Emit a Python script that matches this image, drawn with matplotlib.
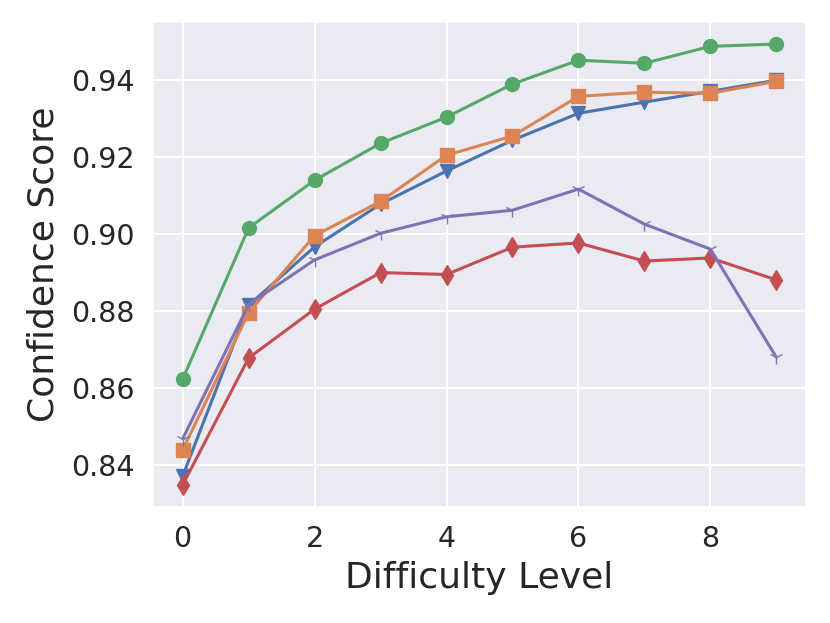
import numpy as np
import matplotlib
matplotlib.use("Agg")
import matplotlib.pyplot as plt
import seaborn as sns

levels = np.arange(10)

# confidence per difficulty level, one list per series
blue_conf = [0.8371, 0.8815, 0.8967, 0.9078, 0.9164, 0.9244, 0.9314, 0.9343, 0.9371, 0.9400]
orange_conf = [0.8439, 0.8796, 0.8996, 0.9085, 0.9205, 0.9255, 0.9358, 0.9369, 0.9366, 0.9397]
green_conf = [0.8623, 0.9016, 0.9140, 0.9236, 0.9304, 0.9390, 0.9452, 0.9444, 0.9488, 0.9494]
red_conf = [0.8348, 0.8678, 0.8805, 0.8900, 0.8895, 0.8966, 0.8977, 0.8930, 0.8938, 0.8881]
purple_conf = [0.8468, 0.8817, 0.8933, 0.9002, 0.9045, 0.9062, 0.9117, 0.9026, 0.8961, 0.8680]

sns.set_theme(style="darkgrid")
pal = sns.color_palette()

fig = plt.figure(figsize=(8.3, 6.23), dpi=100)
ax = fig.add_axes([153/830, 1 - 507/623, (806-153)/830, (507-22)/623])

ax.plot(levels, blue_conf, marker="v", color=pal[0], lw=2.2, ms=10)
ax.plot(levels, orange_conf, marker="s", color=pal[1], lw=2.2, ms=10)
ax.plot(levels, green_conf, marker="o", color=pal[2], lw=2.2, ms=10)
ax.plot(levels, red_conf, marker="d", color=pal[3], lw=2.2, ms=10)
ax.plot(levels, purple_conf, marker="1", color=pal[4], lw=2.2, ms=10)

ax.set_xlabel("Difficulty Level", fontsize=26, labelpad=6)
ax.set_ylabel("Confidence Score", fontsize=26, labelpad=8)
ax.set_xticks([0, 2, 4, 6, 8])
ax.set_yticks([0.84, 0.86, 0.88, 0.90, 0.92, 0.94])
ax.tick_params(labelsize=20.5, pad=7)
ax.grid(lw=1.5)

fig.savefig("out.png", dpi=100)
